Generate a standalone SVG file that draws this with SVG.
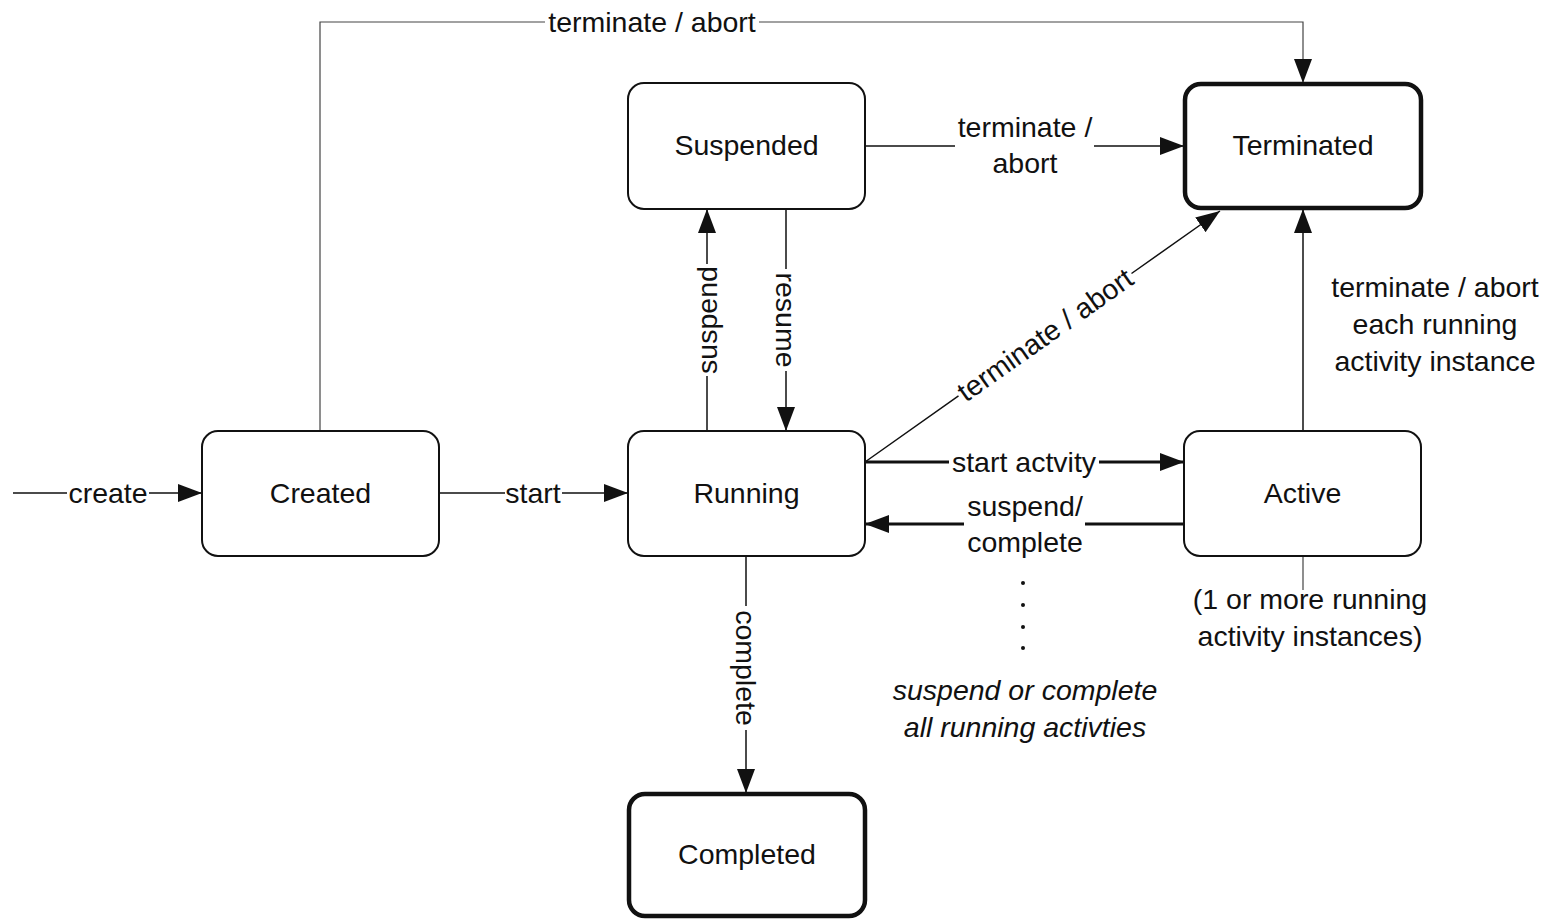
<svg xmlns="http://www.w3.org/2000/svg" width="1546" height="919" viewBox="0 0 1546 919">
<style>
.node rect{fill:#fff;stroke:#111;stroke-width:2}
.final rect{stroke-width:4.5}
text{font-family:"Liberation Sans",Arial,sans-serif;font-size:28.5px;fill:#111;text-anchor:middle}
.c{fill:none;stroke:#111;stroke-width:1.5}
.thin{fill:none;stroke:#444;stroke-width:1.2}
.thick{fill:none;stroke:#111;stroke-width:3.2}
.it{font-style:italic}
</style>
<defs>
<marker id="ah" markerUnits="userSpaceOnUse" markerWidth="24" markerHeight="18" refX="24" refY="9" orient="auto">
<path d="M0,0 L24,9 L0,18 z" fill="#111"/>
</marker>
</defs>
<rect width="1546" height="919" fill="#fff"/>
<g id="connectors">
<path class="c" d="M13,493 H67 M149,493 H202" marker-end="url(#ah)"/>
<text x="108" y="503">create</text>
<path class="c" d="M439,493 H505 M562,493 H628" marker-end="url(#ah)"/>
<text x="533" y="503">start</text>
<path class="thin" d="M320,431 V22 H545 M759,22 H1303 V83" marker-end="url(#ah)"/>
<text x="652" y="32">terminate / abort</text>
<path class="c" d="M865,146 H955 M1094,146 H1184" marker-end="url(#ah)"/>
<text x="1025" y="137">terminate /</text>
<text x="1025" y="173">abort</text>
<path class="c" d="M707,431 V376 M707,264 V209" marker-end="url(#ah)"/>
<text transform="translate(707,320) rotate(-90)" y="10">suspend</text>
<path class="c" d="M786,209 V269 M786,371 V431" marker-end="url(#ah)"/>
<text transform="translate(786,320) rotate(90)" y="10">resume</text>
<path class="c" d="M746,556 V606 M746,730 V793" marker-end="url(#ah)"/>
<text transform="translate(746,668) rotate(90)" y="10">complete</text>
<path class="c" d="M865,462 L958.5,395.9 M1131.5,273.5 L1220,211" marker-end="url(#ah)"/>
<text transform="translate(1045,334.7) rotate(-35.26)" y="10">terminate / abort</text>
<path class="thick" d="M865,462 H949 M1099,462 H1184" marker-end="url(#ah)"/>
<text x="1024" y="472">start actvity</text>
<path class="thick" d="M1184,524 H1085 M964,524 H865" marker-end="url(#ah)"/>
<text x="1025" y="516">suspend/</text>
<text x="1025" y="552">complete</text>
<path class="c" d="M1303,431 V209" marker-end="url(#ah)"/>
<text x="1435" y="297">terminate / abort</text>
<text x="1435" y="334">each running</text>
<text x="1435" y="371">activity instance</text>
<path class="thin" d="M1303,556 V590"/>
<text x="1310" y="609">(1 or more running</text>
<text x="1310" y="646">activity instances)</text>
<g fill="#111">
<circle cx="1023" cy="583" r="2"/>
<circle cx="1023" cy="605" r="2"/>
<circle cx="1023" cy="627" r="2"/>
<circle cx="1023" cy="648" r="2"/>
</g>
<text class="it" x="1025" y="700">suspend or complete</text>
<text class="it" x="1025" y="737">all running activties</text>
</g>
<g id="created" class="node"><rect x="202" y="431" width="237" height="125" rx="16"/><text x="320.5" y="503">Created</text></g>
<g id="running" class="node"><rect x="628" y="431" width="237" height="125" rx="16"/><text x="746.5" y="503">Running</text></g>
<g id="suspended" class="node"><rect x="628" y="83" width="237" height="126" rx="16"/><text x="746.5" y="155">Suspended</text></g>
<g id="terminated" class="node final"><rect x="1185" y="84" width="236" height="124" rx="16"/><text x="1303" y="155">Terminated</text></g>
<g id="active" class="node"><rect x="1184" y="431" width="237" height="125" rx="16"/><text x="1302.5" y="503">Active</text></g>
<g id="completed" class="node final"><rect x="629" y="794" width="236" height="122" rx="16"/><text x="747" y="864">Completed</text></g>
</svg>
